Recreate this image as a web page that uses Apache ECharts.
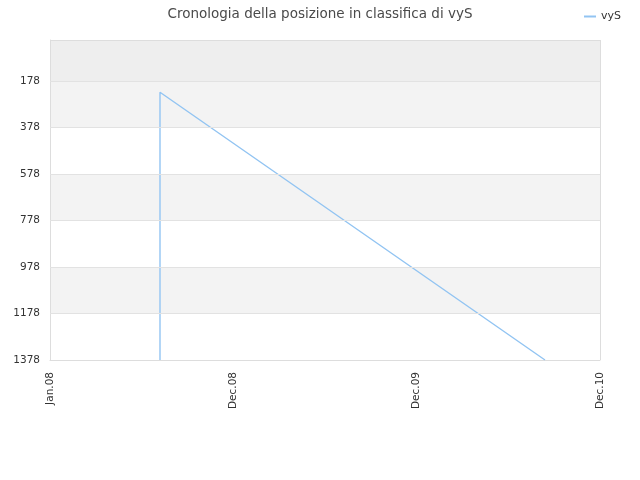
<!DOCTYPE html>
<html>
<head>
<meta charset="utf-8">
<script src="https://cdn.jsdelivr.net/npm/echarts@6/dist/echarts.min.js"></script>
<style>
  html, body { margin: 0; padding: 0; background: #fff; }
  #chart { width: 640px; height: 480px; }
</style>
</head>
<body>
<div id="chart"></div>
<script>
// x positions are on an evenly spaced label scale (0 = Jan.08 ... 3 = Dec.10)
var xLabels = ['Jan.08', 'Dec.08', 'Dec.09', 'Dec.10'];
var rankTicks = [178, 378, 578, 778, 978, 1178, 1378];
var seriesX = [0.6, 0.6, 2.7];
var seriesRank = [1378, 226, 1378];

var chart = echarts.init(document.getElementById('chart'));

var points = seriesX.map(function (x, i) { return [x, seriesRank[i]]; });

// shaded bands between ticks
var bands = [
  [{ yAxis: 1, itemStyle: { color: '#eeeeee' } }, { yAxis: rankTicks[0] }],
  [{ yAxis: rankTicks[0], itemStyle: { color: '#f3f3f3' } }, { yAxis: rankTicks[1] }],
  [{ yAxis: rankTicks[2], itemStyle: { color: '#f3f3f3' } }, { yAxis: rankTicks[3] }],
  [{ yAxis: rankTicks[4], itemStyle: { color: '#f3f3f3' } }, { yAxis: rankTicks[5] }]
];

var gridLines = rankTicks.slice(0, -1).map(function (v) { return { yAxis: v }; });
gridLines.push({ yAxis: 1, lineStyle: { color: '#dddddd' } });
gridLines.push({ xAxis: 3, lineStyle: { color: '#dddddd' } });

chart.setOption({
  animation: false,
  title: {
    text: 'Cronologia della posizione in classifica di vyS',
    left: 'center',
    top: 2,
    textStyle: { fontFamily: 'DejaVu Sans', fontSize: 13.5, fontWeight: 'normal', color: '#4a4a4a' }
  },
  legend: {
    right: 14,
    top: 6,
    itemWidth: 12,
    itemHeight: 2,
    itemGap: 6,
    icon: 'rect',
    textStyle: { fontFamily: 'DejaVu Sans', fontSize: 11, color: '#333' },
    data: ['vyS']
  },
  grid: { left: 50, right: 40, top: 40, bottom: 120, containLabel: false },
  xAxis: {
    type: 'value',
    min: 0,
    max: 3,
    interval: 1,
    axisLine: { show: true, lineStyle: { color: '#ddd' } },
    axisTick: { show: false },
    splitLine: { show: false },
    axisLabel: {
      rotate: 90,
      fontFamily: 'DejaVu Sans',
      fontSize: 10.5,
      color: '#333',
      margin: 12,
      formatter: function (v) { return xLabels[Math.round(v)]; }
    }
  },
  yAxis: {
    type: 'value',
    inverse: true,
    min: 1,
    max: 1378,
    axisLine: { show: true, lineStyle: { color: '#ddd' } },
    axisTick: { show: false, customValues: rankTicks },
    splitLine: { show: false },
    axisLabel: {
      customValues: rankTicks,
      fontFamily: 'DejaVu Sans',
      fontSize: 10.5,
      color: '#333',
      margin: 10,
      formatter: function (v) { return String(v); }
    }
  },
  series: [{
    name: 'vyS',
    type: 'line',
    data: points,
    symbol: 'none',
    lineStyle: { color: '#92c4f2', width: 1.4 },
    itemStyle: { color: '#92c4f2' },
    z: 3,
    markArea: { silent: true, data: bands, z: 0 }
  }, {
    // gridlines and plot box border
    type: 'line',
    data: [],
    z: 1,
    markLine: {
      silent: true,
      symbol: 'none',
      label: { show: false },
      lineStyle: { color: '#e2e2e2', type: 'solid', width: 1 },
      data: gridLines
    }
  }]
});
</script>
</body>
</html>
